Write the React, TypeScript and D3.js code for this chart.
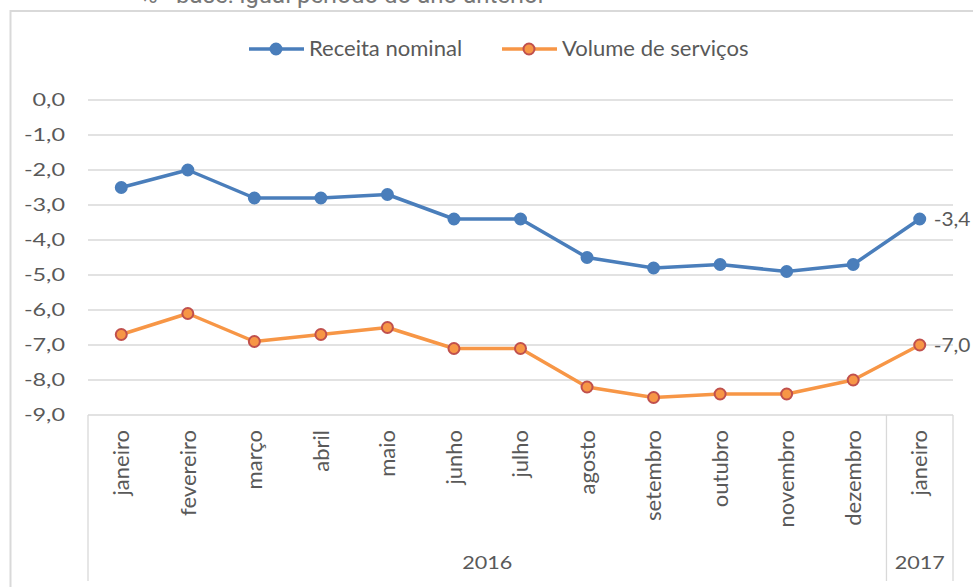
import React from 'react';
import * as d3 from 'd3';

// data
const months = ['janeiro', 'fevereiro', 'março', 'abril', 'maio', 'junho', 'julho', 'agosto', 'setembro', 'outubro', 'novembro', 'dezembro', 'janeiro'];
const years = [
  {label: '2016', count: 12},
  {label: '2017', count: 1}
];
const receitaNominal = [-2.5, -2.0, -2.8, -2.8, -2.7, -3.4, -3.4, -4.5, -4.8, -4.7, -4.9, -4.7, -3.4];
const volumeServicos = [-6.7, -6.1, -6.9, -6.7, -6.5, -7.1, -7.1, -8.2, -8.5, -8.4, -8.4, -8.0, -7.0];
const yTicks = [0, -1, -2, -3, -4, -5, -6, -7, -8, -9];

const seriesList = [
  {name: 'Receita nominal', values: receitaNominal, color: '#4a7ebb', fill: '#4a7ebb', stroke: '#4a7ebb', legendX: 249},
  {name: 'Volume de serviços', values: volumeServicos, color: '#f79646', fill: '#f79646', stroke: '#c0504d', legendX: 502}
];

const font = 'Lato, "Open Sans", sans-serif';
const textColor = '#595959';
const fmt = (v: number) => v.toFixed(1).replace('.', ',');

export default function App() {
  const W = 973, H = 587;
  const left = 88, right = 953, top = 100, bottom = 415;

  const xScale = d3.scaleBand<number>()
    .domain(d3.range(months.length))
    .range([left, right]);
  const yScale = d3.scaleLinear()
    .domain([0, -9])
    .range([top, bottom]);

  const cx = (i: number) => (xScale(i) as number) + xScale.bandwidth() / 2;
  const line = d3.line<number>()
    .x((d, i) => cx(i))
    .y(d => yScale(d));

  // year group boundaries
  let acc = 0;
  const groups = years.map(y => {
    const start = acc;
    acc += y.count;
    return {...y, x0: xScale(start) as number, x1: start + y.count < months.length ? (xScale(start + y.count) as number) : right};
  });

  const last = months.length - 1;

  return (
    <svg width={W} height={H} style={{position: 'absolute', left: 0, top: 0, display: 'block'}}>
      <rect x={0} y={0} width={W} height={H} fill="#fff" />
      <text x={140} y={3} fontFamily="Roboto, Arial, sans-serif" fontSize={24} fill="#777">% - base: igual período do ano anterior</text>
      {/* outer frame */}
      <rect x={10.5} y={11} width={W + 20} height={H + 20} fill="none" stroke="#d9d9d9" strokeWidth={2} />

      {/* gridlines */}
      {yTicks.map(t => (
        <line key={t} x1={left} x2={right} y1={yScale(t)} y2={yScale(t)} stroke="#d9d9d9" strokeWidth={1.3} />
      ))}
      {yTicks.map(t => (
        <text key={'l' + t} transform={`translate(65,${yScale(t)}) scale(1.3,1)`} dy="0.35em" textAnchor="end" fontFamily={font} fontSize={18} fill={textColor}>{fmt(t)}</text>
      ))}

      {/* category axis separators */}
      {[left, ...groups.map(g => g.x1)].map((x, i) => (
        <line key={'s' + i} x1={x} x2={x} y1={bottom} y2={581} stroke="#d9d9d9" strokeWidth={1.3} />
      ))}
      {months.map((m, i) => (
        <text key={'m' + i} transform={`translate(${cx(i)},${430}) rotate(-90)`} dy="0.35em" textAnchor="end" fontFamily={font} fontSize={22} fill={textColor}>{m}</text>
      ))}
      {groups.map(g => (
        <text key={g.label} transform={`translate(${(g.x0 + g.x1) / 2},${563}) scale(1.2,1)`} dy="0.35em" textAnchor="middle" fontFamily={font} fontSize={18} fill={textColor}>{g.label}</text>
      ))}

      {/* series */}
      {seriesList.map(s => (
        <g key={s.name}>
          <path d={line(s.values) as string} fill="none" stroke={s.color} strokeWidth={3.5} strokeLinejoin="round" />
          {s.values.map((v, i) => (
            <circle key={i} cx={cx(i)} cy={yScale(v)} r={5.5} fill={s.fill} stroke={s.stroke} strokeWidth={2} />
          ))}
          <text transform={`translate(${cx(last) + 14},${yScale(s.values[last])}) scale(1.1,1)`} dy="0.35em" fontFamily={font} fontSize={19} fill={textColor}>{fmt(s.values[last])}</text>
        </g>
      ))}

      {/* legend */}
      {seriesList.map((s, i) => (
        <g key={'lg' + i}>
          <line x1={s.legendX} x2={s.legendX + 55} y1={49} y2={49} stroke={s.color} strokeWidth={3.5} />
          <circle cx={s.legendX + 27} cy={49} r={5.5} fill={s.fill} stroke={s.stroke} strokeWidth={2} />
          <text transform={`translate(${s.legendX + 60},49) scale(1.05,1)`} dy="0.35em" fontFamily={font} fontSize={21} fill={textColor}>{s.name}</text>
        </g>
      ))}
    </svg>
  );
}
